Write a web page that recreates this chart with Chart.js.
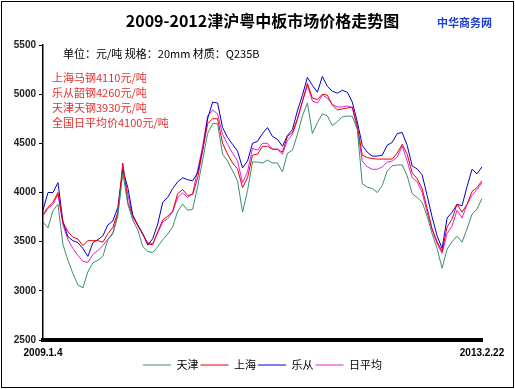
<!DOCTYPE html>
<html>

<head>
    <meta charset="UTF-8">
    <title>2009-2012津沪粤中板市场价格走势图</title>
    <script src="https://cdn.jsdelivr.net/npm/chart.js@4.4.1/dist/chart.umd.min.js"></script>
    <style>
        body { margin: 0; background: #fff; }
        canvas { display: block; }
    </style>
</head>

<body>
    <canvas id="chart" width="515" height="389"></canvas>
    <script>
        // values, one point roughly every 5px along the date axis
        const startLabel = '2009.1.4';
        const endLabel = '2013.2.22';

        const tianjin = [3700, 3640, 3814, 3880, 3470, 3310, 3175, 3060, 3030, 3195,
            3285, 3310, 3350, 3520, 3580, 3760, 4200, 3880, 3720, 3620,
            3450, 3400, 3390, 3450, 3520, 3577, 3650, 3810, 3880, 3820,
            3830, 4060, 4330, 4600, 4700, 4700, 4390, 4320, 4220, 4120,
            3800, 4020, 4310, 4310, 4300, 4330, 4300, 4300, 4210, 4400,
            4430, 4590, 4780, 4910, 4600, 4710, 4800, 4780, 4680, 4720,
            4770, 4777, 4775, 4642, 4090, 4055, 4040, 4000, 4070, 4220,
            4270, 4280, 4280, 4170, 3990, 3950, 3900, 3760, 3580, 3430,
            3230, 3425, 3500, 3555, 3495, 3630, 3780, 3830, 3940];

        const shanghai = [3780, 3850, 3900, 4000, 3700, 3600, 3545, 3527, 3460, 3510,
            3510, 3510, 3495, 3580, 3645, 3800, 4300, 3900, 3760, 3670,
            3580, 3475, 3470, 3600, 3720, 3760, 3810, 3990, 4030, 3970,
            3980, 4150, 4430, 4700, 4750, 4750, 4500, 4390, 4300, 4240,
            4050, 4150, 4380, 4390, 4470, 4470, 4440, 4440, 4410, 4570,
            4610, 4750, 4920, 5110, 4960, 4946, 5000, 4990, 4890, 4840,
            4850, 4860, 4870, 4680, 4380, 4355, 4345, 4340, 4340, 4340,
            4340, 4400, 4490, 4390, 4200, 4140, 4040, 3840, 3630, 3500,
            3400, 3650, 3730, 3880, 3800, 3880, 4010, 4050, 4120];

        const lecong = [3820, 4000, 4000, 4100, 3700, 3550, 3510, 3490, 3430, 3350,
            3490, 3520, 3560, 3670, 3710, 3850, 4230, 4050, 3770, 3670,
            3580, 3465, 3530, 3680, 3900, 3950, 4040, 4110, 4150, 4130,
            4120, 4200, 4430, 4750, 4920, 4910, 4660, 4560, 4490, 4420,
            4250, 4320, 4500, 4520, 4600, 4660, 4570, 4540, 4470, 4580,
            4640, 4830, 4990, 5170, 5090, 5020, 5180, 5080, 5030, 5010,
            5040, 5020, 4920, 4720, 4480, 4410, 4370, 4370, 4380, 4480,
            4510, 4600, 4610, 4480, 4270, 4240, 4180, 3970, 3750, 3560,
            3430, 3740, 3800, 3880, 3865, 4060, 4236, 4190, 4260];

        const dailyAvg = [3760, 3840, 3880, 3980, 3670, 3520, 3430, 3360, 3300, 3290,
            3370, 3410, 3460, 3525, 3590, 3790, 4250, 3980, 3750, 3660,
            3570, 3490, 3480, 3590, 3700, 3735, 3805, 3950, 3995, 3950,
            3990, 4230, 4470, 4780, 4840, 4800, 4590, 4490, 4400, 4320,
            4100, 4210, 4450, 4430, 4500, 4500, 4440, 4440, 4390, 4530,
            4590, 4740, 4930, 5090, 4930, 4910, 4990, 4960, 4895, 4870,
            4870, 4880, 4860, 4650, 4320, 4260, 4236, 4236, 4260, 4310,
            4320, 4360, 4470, 4320, 4150, 4110, 4000, 3800, 3620, 3480,
            3380, 3580, 3660, 3820, 3740, 3880, 3970, 4030, 4100];

        const seriesNames = ['天津', '上海', '乐从', '日平均'];
        const noteNames = ['上海马钢', '乐从韶钢', '天津天钢', '全国日平均价'];
        const notePrices = [4110, 4260, 3930, 4100];
        const titleText = '2009-2012津沪粤中板市场价格走势图';
        const siteName = '中华商务网';
        const unitNote = '单位：元/吨 规格：20mm 材质：Q235B';

        const labels = tianjin.map((v, i) => i === 0 ? startLabel : (i === tianjin.length - 1 ? endLabel : ''));

        const cjk = '"Noto Sans CJK SC", sans-serif';

        // white page, outer frame and the free texts
        const frame = {
            id: 'frame',
            beforeDraw(chart) {
                const c = chart.ctx;
                c.save();
                c.fillStyle = '#fff';
                c.fillRect(0, 0, chart.width, chart.height);
                c.restore();
            },
            afterDraw(chart) {
                const c = chart.ctx;
                c.save();
                c.strokeStyle = '#000';
                c.lineWidth = 1;
                c.strokeRect(1.5, 1.5, chart.width - 3, chart.height - 3);
                c.textBaseline = 'middle';
                c.textAlign = 'left';
                c.font = 'bold 11px ' + cjk;
                c.fillStyle = '#1f3fd0';
                c.fillText(siteName, 437, 23);
                c.font = '11px ' + cjk;
                c.fillStyle = '#000';
                c.fillText(unitNote, 63, 54);
                c.fillStyle = '#e03030';
                noteNames.forEach((n, i) => {
                    c.fillText(n + notePrices[i] + '元/吨', 52, 78 + i * 14.8);
                });
                c.restore();
            }
        };

        function line(label, data, color) {
            return {
                label: label,
                data: data,
                borderColor: color,
                backgroundColor: color,
                borderWidth: 1,
                pointRadius: 0,
                tension: 0,
                fill: false
            };
        }

        const ctx = document.getElementById('chart').getContext('2d');
        const chart = new Chart(ctx, {
            type: 'line',
            data: {
                labels: labels,
                datasets: [
                    line(seriesNames[0], tianjin, '#3a8f66'),
                    line(seriesNames[1], shanghai, '#e60000'),
                    line(seriesNames[2], lecong, '#0000cc'),
                    line(seriesNames[3], dailyAvg, '#dd22dd')
                ]
            },
            plugins: [frame],
            options: {
                responsive: false,
                animation: false,
                devicePixelRatio: 1,
                layout: { padding: { left: 0, right: 33, top: 0, bottom: 8.5 } },
                plugins: {
                    title: {
                        display: true,
                        text: titleText,
                        fullSize: false,
                        color: '#000',
                        font: { family: cjk, size: 16, weight: 'bold' },
                        padding: { top: 11, bottom: 14.8 }
                    },
                    legend: {
                        position: 'bottom',
                        fullSize: false,
                        labels: {
                            usePointStyle: true,
                            pointStyle: 'line',
                            pointStyleWidth: 28,
                            padding: 2,
                            color: '#000',
                            font: { family: cjk, size: 11 }
                        }
                    },
                    tooltip: { enabled: false }
                },
                scales: {
                    x: {
                        grid: { display: false, drawTicks: false },
                        border: { display: true, color: '#000', width: 4 },
                        ticks: {
                            autoSkip: false,
                            maxRotation: 0,
                            padding: 7,
                            color: '#000',
                            font: { family: '"Liberation Sans", sans-serif', size: 10, weight: 'bold' }
                        },
                        afterFit: (s) => { s.height = 17.5; }
                    },
                    y: {
                        min: 2500,
                        max: 5500,
                        ticks: {
                            stepSize: 500,
                            padding: 3,
                            color: '#222',
                            font: { family: '"Liberation Sans", sans-serif', size: 10, weight: 'bold' },
                            callback: (v) => String(v)
                        },
                        grid: { drawOnChartArea: false, drawTicks: true, tickLength: 4, color: '#000' },
                        border: { display: true, color: '#000', width: 1.5 },
                        afterFit: (s) => { s.width = 43; }
                    }
                }
            }
        });
    </script>
</body>

</html>
